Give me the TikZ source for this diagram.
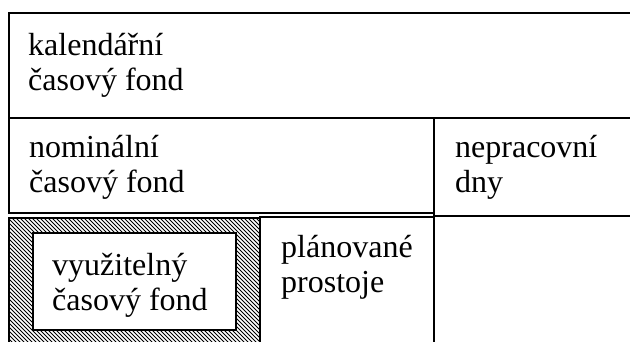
\documentclass[tikz,border=0pt]{standalone}
\usepackage{fontspec}
\setmainfont{Liberation Serif}
\newcommand{\twoline}[2]{\begin{tabular}[t]{@{}l@{}}#1\\#2\end{tabular}}
\begin{document}
\begin{tikzpicture}[x=1pt,y=-1pt,
  frame/.style={draw=black,line width=2pt},
  thin frame/.style={draw=black,line width=1.5pt},
  hatch/.style={draw=black,line width=0.9pt},
  label/.style={anchor=base west,inner sep=0pt,font=\fontsize{32}{35}\selectfont}]
\useasboundingbox (0,0) rectangle (630,341);
\fill[white] (0,0) rectangle (630,341);
% top box
\draw[frame] (9,13) rectangle (645,118);
% second row
\draw[frame] (9,118) rectangle (434,213);
\draw[frame] (434,118) rectangle (645,216);
% hatched box
\begin{scope}
  \clip (9,218) rectangle (260,345);
  \foreach \i in {-140,-136,...,264} \draw[hatch] (\i,214) -- ++(140,140);
\end{scope}
\draw[thin frame] (9,218) rectangle (260,350);
% planned downtime box
\draw[frame] (260,217) rectangle (434,350);
\draw[frame] (434,216) -- (434,350);
% inner white box
\draw[thin frame,fill=white] (33,233) rectangle (236,330);
% texts
\node[label] (kal) at (28,55) {\twoline{kalendářní}{časový fond}};
\node[label] (nom) at (29,157) {\twoline{nominální}{časový fond}};
\node[label] (nep) at (455,157) {\twoline{nepracovní}{dny}};
\node[label] (pla) at (281,257) {\twoline{plánované}{prostoje}};
\node[label] (vyu) at (52,275) {\twoline{využitelný}{časový fond}};
\end{tikzpicture}
\end{document}
